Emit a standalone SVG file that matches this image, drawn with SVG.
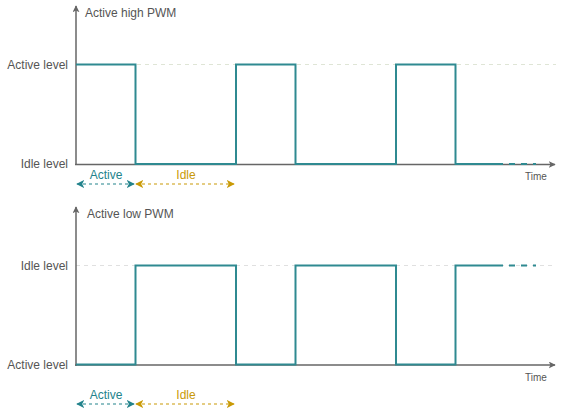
<svg xmlns="http://www.w3.org/2000/svg" width="562" height="414" viewBox="0 0 562 414">
<defs>
<style>
text{font-family:"Liberation Sans",Arial,sans-serif;}
.lbl{font-size:12px;fill:#555;}
.lvl{font-size:12px;fill:#555;text-anchor:end;}
.time{font-size:10px;fill:#555;text-anchor:middle;}
.axis{stroke:#666;stroke-width:1.5;fill:none;}
.guide{stroke:#dfe5d6;stroke-width:1;stroke-dasharray:4 4;fill:none;}
.guide2{stroke:#e0e0e0;stroke-width:1;stroke-dasharray:4 4;fill:none;}
.sig{stroke:#2f8a91;stroke-width:2;fill:none;stroke-linejoin:miter;}
.sigd{stroke:#2f8a91;stroke-width:2;fill:none;stroke-dasharray:6 6;}
.act{stroke:#23838c;stroke-width:1.2;stroke-dasharray:3 3;fill:none;}
.idl{stroke:#c99a06;stroke-width:1.2;stroke-dasharray:3 3;fill:none;}
.tact{font-size:12px;fill:#23838c;text-anchor:middle;}
.tidl{font-size:12px;fill:#c99a06;text-anchor:middle;}
</style>
<marker id="ax" viewBox="0 0 10 10" refX="9" refY="5" markerWidth="7" markerHeight="7" orient="auto-start-reverse" markerUnits="userSpaceOnUse">
<path d="M0,0 L10,5 L0,10 L2.5,5 Z" fill="#666"/>
</marker>
<marker id="ma" viewBox="0 0 10 10" refX="9" refY="5" markerWidth="8" markerHeight="8" orient="auto-start-reverse" markerUnits="userSpaceOnUse">
<path d="M0,0 L10,5 L0,10 L2.5,5 Z" fill="#23838c"/>
</marker>
<marker id="mi" viewBox="0 0 10 10" refX="9" refY="5" markerWidth="8" markerHeight="8" orient="auto-start-reverse" markerUnits="userSpaceOnUse">
<path d="M0,0 L10,5 L0,10 L2.5,5 Z" fill="#c99a06"/>
</marker>
</defs>
<rect width="562" height="414" fill="#fff"/>

<g id="top-chart">
<path class="guide" d="M137,64.5 H556"/>
<path class="axis" d="M76,165 V6" marker-end="url(#ax)"/>
<path class="axis" d="M75,164.5 H555" marker-end="url(#ax)"/>
<text class="lbl" x="85" y="17">Active high PWM</text>
<text class="lvl" x="68" y="69">Active level</text>
<text class="lvl" x="68" y="168">Idle level</text>
<text class="time" x="536" y="180">Time</text>
</g>
<g id="top-signal">
<path class="sig" d="M76,64.5 H135.5 V164 H236 V64.5 H295.5 V164 H396 V64.5 H455.5 V164 H497"/>
<path class="sigd" d="M497,164 H536"/>
</g>
<g id="top-durations">
<text class="tact" x="106" y="179">Active</text>
<text class="tidl" x="186" y="179">Idle</text>
</g>

<g id="bottom-chart">
<path class="guide2" d="M76,265.5 H556"/>
<path class="axis" d="M76,366 V207" marker-end="url(#ax)"/>
<path class="axis" d="M75,365 H555" marker-end="url(#ax)"/>
<text class="lbl" x="87" y="218">Active low PWM</text>
<text class="lvl" x="68" y="270">Idle level</text>
<text class="lvl" x="68" y="369">Active level</text>
<text class="time" x="536" y="381">Time</text>
</g>
<g id="bottom-signal">
<path class="sig" d="M76,364.5 H135.5 V265.5 H236 V364.5 H295.5 V265.5 H396 V364.5 H455.5 V265.5 H497"/>
<path class="sigd" d="M497,265.5 H536"/>
</g>
<g id="bottom-durations">
<text class="tact" x="106" y="399">Active</text>
<text class="tidl" x="186" y="399">Idle</text>
</g>

<g id="connectors">
<path class="act" d="M77,184 H134" marker-start="url(#ma)" marker-end="url(#ma)"/>
<path class="idl" d="M136,184 H234" marker-start="url(#mi)" marker-end="url(#mi)"/>
<path class="act" d="M77,404 H134" marker-start="url(#ma)" marker-end="url(#ma)"/>
<path class="idl" d="M136,404 H234" marker-start="url(#mi)" marker-end="url(#mi)"/>
</g>
</svg>
